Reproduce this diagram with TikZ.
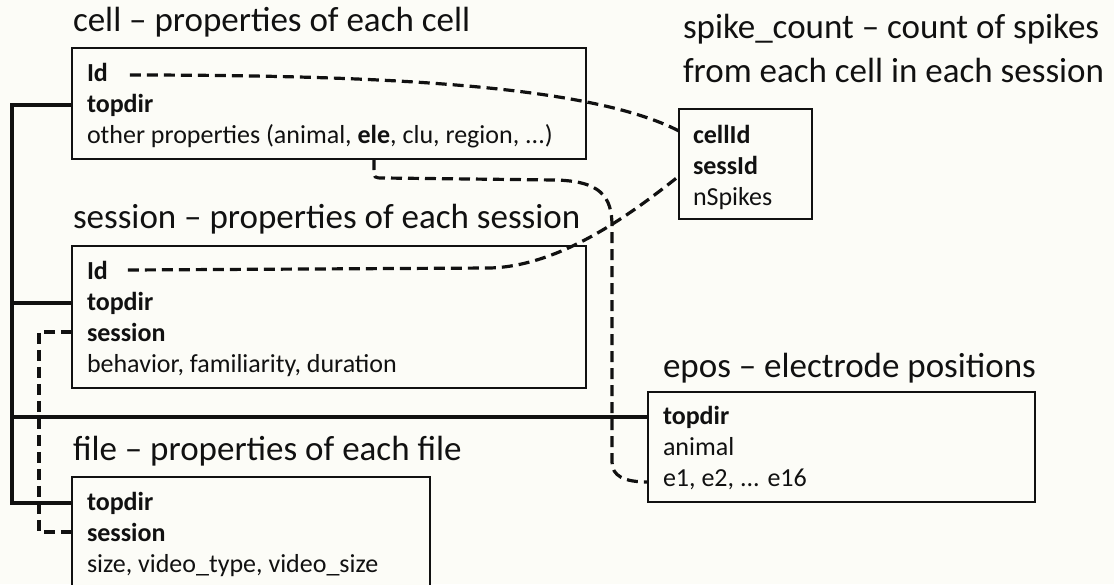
\documentclass[tikz,border=0pt]{standalone}
\usepackage{fontspec}
\setmainfont{Carlito}
\usetikzlibrary{calc}
\definecolor{bg}{RGB}{252,252,247}
\definecolor{ink}{RGB}{17,17,17}
\begin{document}
\begin{tikzpicture}[x=1pt,y=-1pt,
  tbl/.style={draw=ink, line width=1.6pt, fill=bg, anchor=north west, inner sep=0pt, outer sep=0pt},
  row/.style={anchor=base west, inner sep=0pt, outer sep=0pt, text=ink, font=\fontsize{26}{31}\selectfont},
  ttl/.style={anchor=base west, inner sep=0pt, outer sep=0pt, text=ink, font=\fontsize{35}{44}\selectfont},
  link/.style={draw=ink, line width=3.4pt},
  keylink/.style={draw=ink, line width=3.2pt, dash pattern=on 11pt off 6pt},
]
\path[use as bounding box, fill=bg] (0,0) rectangle (1114,584);
\clip (0,0) rectangle (1114,584);

% ---- titles
\node[ttl] (celltitle) at (73,31) {cell – properties of each cell};
\node[ttl] (sesstitle) at (73,228) {session – properties of each session};
\node[ttl] (filetitle) at (73,460) {file – properties of each file};
\node[ttl] (epostitle) at (663,377) {epos – electrode positions};
\node[ttl] (spiketitleA) at (683,38) {spike\_count – count of spikes};
\node[ttl] (spiketitleB) at (683,82) {from each cell in each session};

% ---- tables
\node[tbl, minimum width=514pt, minimum height=111pt] (cell) at (72,48) {};
\node[tbl, minimum width=514pt, minimum height=142pt] (session) at (72,246) {};
\node[tbl, minimum width=358pt, minimum height=125pt] (file) at (72,477) {};
\node[tbl, minimum width=133pt, minimum height=110pt] (spike) at (679,109) {};
\node[tbl, minimum width=387pt, minimum height=110pt] (epos) at (648,392) {};

% ---- rows
\node[row] (cellId) at (87,81) {\textbf{Id}};
\node[row] (celltopdir) at (87,112) {\textbf{topdir}};
\node[row] (cellother) at (87,143) {other properties (animal, \textbf{ele}, clu, region, ...)};

\node[row] (sessId) at (87,279) {\textbf{Id}};
\node[row] (sesstopdir) at (87,310) {\textbf{topdir}};
\node[row] (sesssession) at (87,341) {\textbf{session}};
\node[row] (sessother) at (87,372) {behavior, familiarity, duration};

\node[row] (filetopdir) at (87,510) {\textbf{topdir}};
\node[row] (filesession) at (87,541) {\textbf{session}};
\node[row] (fileother) at (87,572) {size, video\_type, video\_size};

\node[row] (spikecellId) at (693,143) {\textbf{cellId}};
\node[row] (spikesessId) at (693,174) {\textbf{sessId}};
\node[row] (spikenSpikes) at (693,205) {nSpikes};

\node[row] (epostopdir) at (663,424) {\textbf{topdir}};
\node[row] (eposanimal) at (663,455) {animal};
\node[row] (epose1) at (663,486) {e1, e2, ... e16};

% ---- helper coordinates
\coordinate (trunk) at (12,0);
\coordinate (dx) at (39,0);
\coordinate (elex) at (374,0);

% ---- topdir links (solid)
\draw[link] (cell.west |- celltopdir) -- (trunk |- celltopdir) -- (trunk |- filetopdir) -- (file.west |- filetopdir);
\draw[link] (trunk |- sesstopdir) -- (session.west |- sesstopdir);
\draw[link] (trunk |- epostopdir) -- (epos.west |- epostopdir);

% ---- key links (dashed)
\draw[keylink] ($(cellId.base east)+(22,-6)$) .. controls (380,75) and (590,85) .. ($(spike.west |- spikecellId.base)+(0,-12)$);
\draw[keylink] ($(sessId.base east)+(20,-9)$) -- (490,268) .. controls (560,266) and (630,215) .. ($(spike.west |- spikesessId.base)+(0,2)$);
\draw[keylink] (cell.south -| elex) -- (374,169) .. controls (374,178) .. (384,178) -- (555,180) .. controls (600,181) and (612,196) .. (612,226) -- (612,462) .. controls (612,476) and (624,482) .. ($(epos.west |- epose1.base)+(0,-4)$);
\draw[keylink] (session.west |- sesssession) -- (dx |- sesssession) -- (dx |- filesession) -- (file.west |- filesession);
\end{tikzpicture}
\end{document}
